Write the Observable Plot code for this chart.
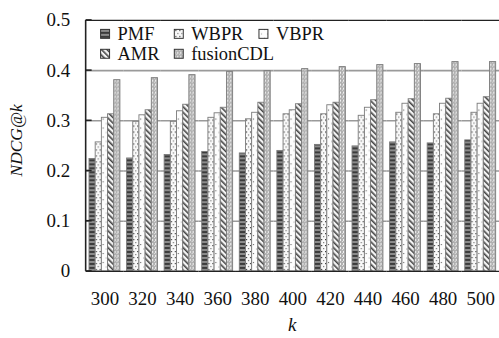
<!DOCTYPE html>
<html>
<head>
<meta charset="utf-8">
<script src="https://cdn.jsdelivr.net/npm/d3@7"></script>
<script src="https://cdn.jsdelivr.net/npm/@observablehq/plot@0.6"></script>
<style>
  html, body { margin: 0; padding: 0; overflow: hidden; background: #fff; }
  #chart { width: 499px; height: 338px; overflow: hidden; }
  #chart svg, #chart svg text { font-family: "Liberation Serif", "Times New Roman", serif !important; }
</style>
</head>
<body>
<div id="chart"></div>
<script>
// ---- data ----
const kValues = [300, 320, 340, 360, 380, 400, 420, 440, 460, 480, 500];
const models = ["PMF", "WBPR", "VBPR", "AMR", "fusionCDL"];
const PMF       = [0.224, 0.225, 0.232, 0.238, 0.235, 0.240, 0.252, 0.249, 0.257, 0.255, 0.261];
const WBPR      = [0.257, 0.298, 0.298, 0.306, 0.303, 0.313, 0.313, 0.310, 0.316, 0.313, 0.316];
const VBPR      = [0.306, 0.311, 0.319, 0.315, 0.316, 0.321, 0.331, 0.326, 0.334, 0.334, 0.334];
const AMR       = [0.313, 0.321, 0.332, 0.326, 0.336, 0.333, 0.336, 0.341, 0.343, 0.344, 0.347];
const fusionCDL = [0.381, 0.385, 0.391, 0.397, 0.399, 0.403, 0.407, 0.411, 0.413, 0.417, 0.417];
const yTicks = [0, 0.1, 0.2, 0.3, 0.4, 0.5];
const yLabel = "NDCG@k";
const xLabel = "k";

const series = {PMF, WBPR, VBPR, AMR, fusionCDL};
const data = [];
kValues.forEach((k, i) => models.forEach(m => data.push({k, model: m, value: series[m][i]})));

const patternIds = ["p-pmf", "p-wbpr", "p-vbpr", "p-amr", "p-fusion"];
const fills = patternIds.map(id => `url(#${id})`);

const W = 501, H = 338, ML = 86, MT = 20, MB = 66, MR = 0;
const FONT = "'Liberation Serif', 'Times New Roman', serif";

const plot = Plot.plot({
  width: W,
  height: H,
  marginLeft: ML,
  marginRight: MR,
  marginTop: MT,
  marginBottom: MB,
  style: {fontFamily: FONT, fontSize: "19px", color: "#111", background: "#fff"},
  fx: {domain: kValues, padding: 0, round: false},
  x: {domain: models, paddingInner: 0, paddingOuter: 0.54, round: false, axis: null},
  y: {domain: [0, 0.5], axis: null},
  color: {domain: models, range: fills},
  marks: [
    Plot.ruleY([0.1, 0.2, 0.3, 0.4], {stroke: "#9a9a9a", strokeWidth: 1.6}),
    Plot.barY(data, {fx: "k", x: "model", y: "value", fill: "model", stroke: "#7a7a7a", strokeWidth: 0.9}),
    Plot.ruleY([0, 0.5], {stroke: "#222", strokeWidth: 1.4}),
    Plot.axisY({ticks: yTicks, tickSize: 0, tickPadding: 16, tickFormat: d => d === 0 ? "0" : d.toFixed(1),
                label: null, fontSize: 19}),
    Plot.axisFx({anchor: "bottom", tickSize: 0, tickPadding: 20, label: null, fontSize: 19})
  ]
});

// pattern definitions
const svg = d3.select(plot);
const defs = svg.insert("defs", ":first-child");
// PMF: dark horizontal stripes
let p = defs.append("pattern").attr("id", "p-pmf").attr("patternUnits", "userSpaceOnUse").attr("width", 4).attr("height", 4);
p.append("rect").attr("width", 4).attr("height", 4).attr("fill", "#8c8c8c");
p.append("rect").attr("width", 4).attr("height", 2).attr("fill", "#3c3c3c");
// WBPR: dense dots
p = defs.append("pattern").attr("id", "p-wbpr").attr("patternUnits", "userSpaceOnUse").attr("width", 4).attr("height", 6);
p.append("rect").attr("width", 4).attr("height", 6).attr("fill", "#fafafa");
p.append("rect").attr("x", 0).attr("y", 0).attr("width", 1.2).attr("height", 1.2).attr("fill", "#333");
p.append("rect").attr("x", 2).attr("y", 3).attr("width", 1.2).attr("height", 1.2).attr("fill", "#777");
// VBPR: sparse dots
p = defs.append("pattern").attr("id", "p-vbpr").attr("patternUnits", "userSpaceOnUse").attr("width", 6).attr("height", 9);
p.append("rect").attr("width", 6).attr("height", 9).attr("fill", "#fdfdfd");
p.append("rect").attr("x", 1).attr("y", 2).attr("width", 1.1).attr("height", 1.1).attr("fill", "#666");
p.append("rect").attr("x", 4).attr("y", 6.5).attr("width", 1.1).attr("height", 1.1).attr("fill", "#aaa");
// AMR: diagonal hatch
p = defs.append("pattern").attr("id", "p-amr").attr("patternUnits", "userSpaceOnUse").attr("width", 4).attr("height", 4)
  .attr("patternTransform", "rotate(-45)");
p.append("rect").attr("width", 4).attr("height", 4).attr("fill", "#f4f4f4");
p.append("rect").attr("width", 1.6).attr("height", 4).attr("fill", "#444");
// fusionCDL: light gray with white dashes
p = defs.append("pattern").attr("id", "p-fusion").attr("patternUnits", "userSpaceOnUse").attr("width", 3).attr("height", 4);
p.append("rect").attr("width", 3).attr("height", 4).attr("fill", "#b0b0b0");
p.append("rect").attr("x", 1).attr("y", 0).attr("width", 1).attr("height", 2).attr("fill", "#f2f2f2");
p.append("rect").attr("x", 0).attr("y", 2).attr("width", 1).attr("height", 1).attr("fill", "#e4e4e4");

// left frame line and inward ticks
const yScale = plot.scale("y");
const yPix = v => MT + (H - MT - MB) * (1 - (v - yScale.domain[0]) / (yScale.domain[1] - yScale.domain[0]));
const frame = svg.append("g");
frame.append("line").attr("x1", ML).attr("x2", ML).attr("y1", MT).attr("y2", H - MB)
  .attr("stroke", "#222").attr("stroke-width", 1.6);
yTicks.forEach(t => frame.append("line").attr("x1", ML).attr("x2", ML + 6).attr("y1", yPix(t)).attr("y2", yPix(t))
  .attr("stroke", "#222").attr("stroke-width", 1.6));

// axis labels (italic)
svg.append("text")
  .attr("transform", "translate(16,141) rotate(-90)")
  .attr("text-anchor", "middle").attr("dy", "0.35em")
  .attr("font-size", 17.5).attr("font-style", "italic").attr("fill", "#111")
  .text(yLabel);
svg.append("text")
  .attr("x", ML + (W - ML - MR) / 2).attr("y", 332)
  .attr("text-anchor", "middle")
  .attr("font-size", 19).attr("font-style", "italic").attr("fill", "#111")
  .text(xLabel);

// legend
const legend = svg.append("g").attr("font-size", 18.5).attr("fill", "#111").attr("text-anchor", "start");
const legendPos = [
  {x: 101, y: 34}, {x: 175, y: 34}, {x: 260, y: 34},
  {x: 101, y: 54}, {x: 175, y: 54}
];
models.forEach((m, i) => {
  const pos = legendPos[i];
  legend.append("rect").attr("x", pos.x).attr("y", pos.y - 4.5).attr("width", 9).attr("height", 9)
    .attr("fill", fills[i]).attr("stroke", "#333").attr("stroke-width", 1);
  legend.append("text").attr("x", pos.x + 17).attr("y", pos.y).attr("dy", "0.33em").attr("text-anchor", "start").text(m);
});

document.getElementById("chart").appendChild(plot);
</script>
</body>
</html>
